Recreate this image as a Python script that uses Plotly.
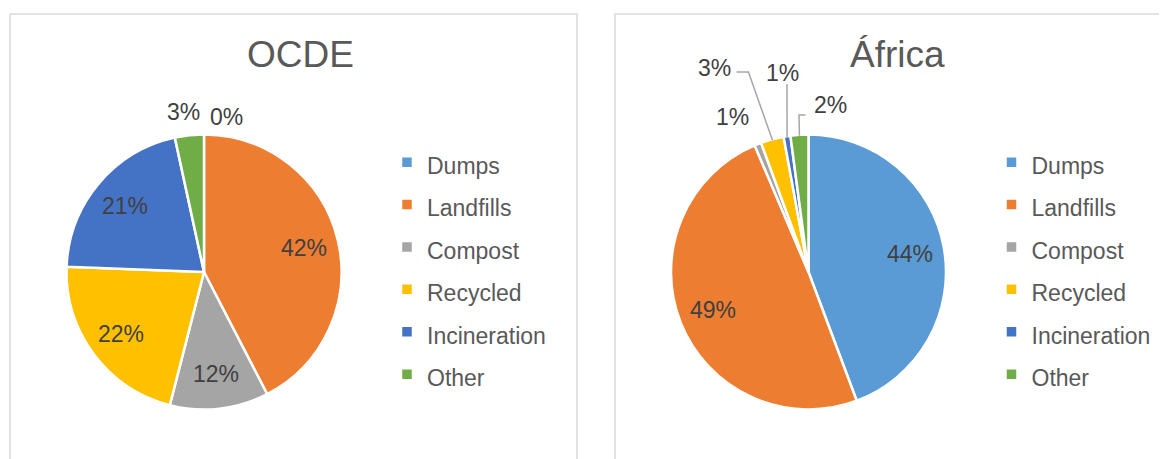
import math
import plotly.graph_objects as go

# ---------------- data ----------------
categories = ["Dumps", "Landfills", "Compost", "Recycled", "Incineration", "Other"]
ocde_values = [0.0, 42.4, 11.6, 21.6, 21.0, 3.4]
africa_values = [44.3, 49.3, 0.8, 2.7, 0.8, 2.1]
panel_titles = ["OCDE", "África"]

# ---------------- style ----------------
colors = ["#5B9BD5", "#ED7D31", "#A5A5A5", "#FFC000", "#4472C4", "#70AD47"]
W, H = 1167, 459
PAGE_OFFSET = 8  # default body margin of the written page
FONT = "Liberation Sans, Arial, Helvetica, sans-serif"
LABEL_COLOR = "#404040"
LEGEND_COLOR = "#595959"
TITLE_COLOR = "#595959"
R = 137.5
centers = [(204.0, 272.0), (808.5, 272.0)]
# labels drawn outside the pie: (trace index, slice index) -> (dx, dy) pixel offset from centre
outside = {
    (0, 5): (-21, -160),
    (0, 0): (22, -155),
    (1, 2): (-76, -155),
    (1, 3): (-94, -204),
    (1, 4): (-26, -199),
    (1, 5): (22, -167),
}
# leader lines: (trace, slice) -> list of offsets (from centre) before the slice edge point
leaders = {
    (1, 3): [(-72, -200), (-60, -200)],
    (1, 4): [(-21.5, -188)],
    (1, 5): [(-3, -157), (-9.5, -157)],
}
INNER_K = 0.75


def px_to_paper(x, y):
    return (x - PAGE_OFFSET) / W, 1 - (y - PAGE_OFFSET) / H


fig = go.Figure()
annotations = []
shapes = []

for ti, vals in enumerate([ocde_values, africa_values]):
    cx, cy = centers[ti]
    x0, y1 = px_to_paper(cx - R, cy - R)
    x1, y0 = px_to_paper(cx + R, cy + R)
    fig.add_trace(go.Pie(
        labels=["<span style='font-size:23px'>%s</span>" % c for c in categories],
        values=vals,
        sort=False,
        direction="clockwise",
        rotation=0,
        textinfo="none",
        hoverinfo="label+percent",
        marker=dict(colors=colors, line=dict(color="white", width=2.5)),
        domain=dict(x=[x0, x1], y=[y0, y1]),
        legend="legend" if ti == 0 else "legend2",
        legendgroup="g%d" % ti,
        showlegend=True,
    ))
    total = sum(vals)
    cum = 0.0
    for si, v in enumerate(vals):
        mid = (cum + v / 2) / total * 2 * math.pi
        cum += v
        pct = "%d%%" % round(v / total * 100)
        if (ti, si) in outside:
            dx, dy = outside[(ti, si)]
        else:
            dx = INNER_K * R * math.sin(mid)
            dy = -INNER_K * R * math.cos(mid)
        ax, ay = px_to_paper(cx + dx, cy + dy)
        annotations.append(dict(
            x=ax, y=ay, xref="paper", yref="paper", text=pct, showarrow=False,
            xanchor="center", yanchor="middle",
            font=dict(family=FONT, size=23, color=LABEL_COLOR),
        ))
        if (ti, si) in leaders:
            pts = [(cx + a, cy + b) for a, b in leaders[(ti, si)]]
            ex = cx + (R - 1) * math.sin(mid)
            ey = cy - (R - 1) * math.cos(mid)
            pts.append((ex, ey))
            path = "M " + " L ".join("%.4f,%.4f" % px_to_paper(px, py) for px, py in pts)
            shapes.append(dict(type="path", path=path, xref="paper", yref="paper",
                               line=dict(color="#A6A6A6", width=1.5)))

# titles
for ti, t in enumerate(panel_titles):
    tx = [300, 898][ti]
    ax, ay = px_to_paper(tx, 54)
    annotations.append(dict(
        x=ax, y=ay, xref="paper", yref="paper", text=t, showarrow=False,
        xanchor="center", yanchor="middle",
        font=dict(family=FONT, size=37, color=TITLE_COLOR),
    ))

# panel borders
for (l, r) in [(10, 577), (615, 1190)]:
    x0, y1 = px_to_paper(l, 14)
    x1, y0 = px_to_paper(r, 490)
    shapes.append(dict(type="rect", xref="paper", yref="paper", x0=x0, x1=x1, y0=y0, y1=y1,
                       line=dict(color="#D9D9D9", width=1.5), layer="below"))

leg_common = dict(
    font=dict(family=FONT, size=30.3, color=LEGEND_COLOR),
    xanchor="left", yanchor="top", bgcolor="rgba(0,0,0,0)",
    traceorder="normal",
)
lx0, ly0 = px_to_paper(387, 136)
lx1, _ = px_to_paper(387 + 604.5, 136)

fig.update_layout(
    width=W, height=H,
    margin=dict(l=0, r=0, t=0, b=0),
    paper_bgcolor="white",
    plot_bgcolor="white",
    annotations=annotations,
    shapes=shapes,
    legend=dict(x=lx0, y=ly0, **leg_common),
    legend2=dict(x=lx1, y=ly0, **leg_common),
)

fig.write_html("out.html")
